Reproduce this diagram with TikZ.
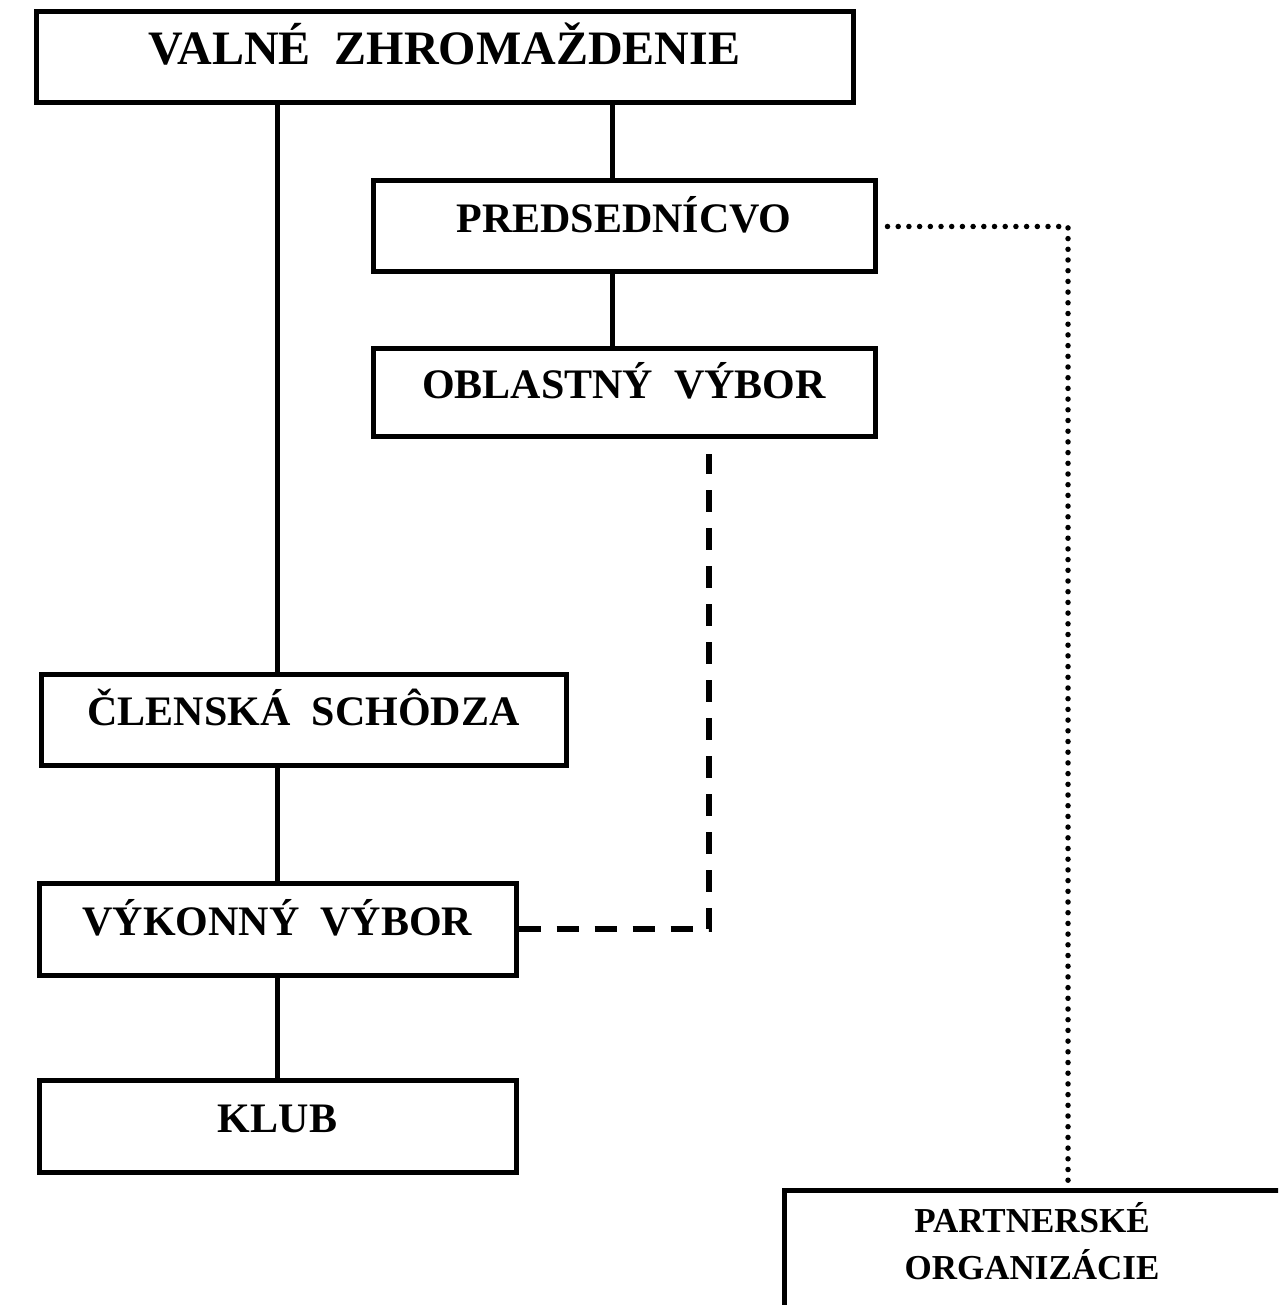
\documentclass[tikz,border=0pt]{standalone}
\usepackage{fontspec}
\setmainfont{Liberation Serif}
\begin{document}
\begin{tikzpicture}[x=1pt,y=-1pt,
  box/.style={draw, line width=5pt, inner sep=0pt, text height=28pt, text depth=15.5pt, font=\bfseries\fontsize{42}{48}\selectfont},
  conn/.style={line width=5pt},
  dashconn/.style={line width=5.5pt, dash pattern=on 22pt off 16pt},
  dotconn/.style={line width=5.5pt, line cap=round, dash pattern=on 0pt off 10.7pt}]
\clip (0,0) rectangle (1278,1305);
\fill[white] (0,0) rectangle (1278,1305);
\node[box, minimum width=817pt, minimum height=91pt, text height=32pt, text depth=18pt, font=\bfseries\fontsize{48}{54}\selectfont] (vz) at (444.5,57.5) {VALNÉ\ \ ZHROMAŽDENIE};
\node[box, minimum width=502pt, minimum height=91pt] (pred) at (624,226.5) {PREDSEDNÍCVO};
\node[box, minimum width=502pt, minimum height=88pt] (obl) at (624,392) {OBLASTNÝ\ \ VÝBOR};
\node[box, minimum width=525pt, minimum height=91pt] (cl) at (303.5,719.5) {ČLENSKÁ\ \ SCHÔDZA};
\node[box, minimum width=477pt, minimum height=92pt] (vyk) at (277.5,929) {VÝKONNÝ\ \ VÝBOR};
\node[box, minimum width=477pt, minimum height=92pt] (klub) at (277.5,1126) {KLUB};
\node[box, minimum width=600pt, minimum height=240pt, anchor=north west] (part) at (782,1188) {};
\node[font=\bfseries\fontsize{35}{47}\selectfont, align=center, anchor=north] (parttext) at (1032,1199) {PARTNERSKÉ\\ORGANIZÁCIE};
\coordinate (xa) at (277,0);
\coordinate (xb) at (612,0);
\coordinate (xd) at (709,454);
\coordinate (xp) at (1068,0);
\draw[conn] (vz.south -| xa) -- (cl.north -| xa);
\draw[conn] (vz.south -| xb) -- (pred.north -| xb);
\draw[conn] (pred.south -| xb) -- (obl.north -| xb);
\draw[conn] (cl.south -| xa) -- (vyk.north -| xa);
\draw[conn] (vyk.south -| xa) -- (klub.north -| xa);
\draw[dashconn] (vyk.east) -| (xd);
\draw[dotconn] ([xshift=10pt]pred.east) -| (part.north -| xp);
\end{tikzpicture}
\end{document}
